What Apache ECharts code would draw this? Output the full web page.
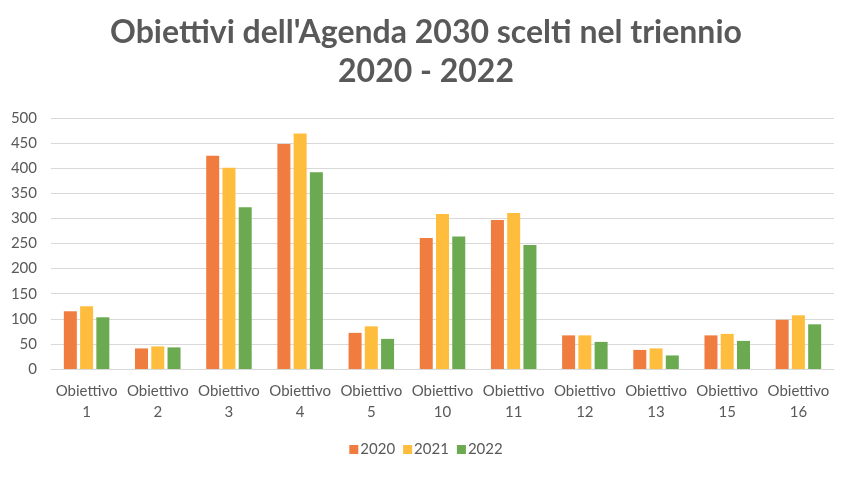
<!DOCTYPE html>
<html><head><meta charset="utf-8">
<script src="https://cdn.jsdelivr.net/npm/echarts@6/dist/echarts.min.js"></script>
<style>html,body{margin:0;padding:0;background:#fff}#c{width:852px;height:477px}</style>
</head><body><div id="c"></div>
<script>
const categories = ['Obiettivo\n1','Obiettivo\n2','Obiettivo\n3','Obiettivo\n4','Obiettivo\n5','Obiettivo\n10','Obiettivo\n11','Obiettivo\n12','Obiettivo\n13','Obiettivo\n15','Obiettivo\n16'];
const v2020 = [115, 41, 425, 448, 72, 261, 297, 67, 38, 67, 98];
const v2021 = [125, 45, 401, 469, 85, 309, 311, 67, 41, 70, 107];
const v2022 = [103, 43, 322, 392, 60, 264, 247, 54, 27, 56, 89];
const seriesNames = ['2020','2021','2022'];
const colors = ['#F07D3F','#FFBD3E','#6BAA50'];
const font = 'Lato';
const chart = echarts.init(document.getElementById('c'));
chart.setOption({
  animation: false,
  title: {
    text: "Obiettivi dell'Agenda 2030 scelti nel triennio\n2020 - 2022",
    left: 'center', top: 8,
    textStyle: {fontFamily: font, fontWeight: 'bold', fontSize: 32, color: '#595959', lineHeight: 39}
  },
  legend: {
    data: seriesNames, bottom: 15, left: 'center',
    itemWidth: 9, itemHeight: 9, itemGap: 8, icon: 'rect',
    textStyle: {fontFamily: font, fontSize: 15, color: '#595959', padding: [0,0,0,-3]}
  },
  grid: {left: 51, right: 18, top: 118, bottom: 108, containLabel: false},
  xAxis: {
    type: 'category', data: categories,
    axisLine: {lineStyle: {color: '#d9d9d9'}},
    axisTick: {show: false},
    axisLabel: {fontFamily: font, fontSize: 15, color: '#595959', lineHeight: 21, margin: 12, interval: 0}
  },
  yAxis: {
    type: 'value', min: 0, max: 500, interval: 50,
    axisLine: {show: false}, axisTick: {show: false},
    splitLine: {lineStyle: {color: '#d9d9d9'}},
    axisLabel: {fontFamily: font, fontSize: 15, color: '#595959', margin: 14}
  },
  series: [
    {name: seriesNames[0], type: 'bar', data: v2020, barWidth: 13, barGap: '25%', itemStyle: {color: colors[0]}},
    {name: seriesNames[1], type: 'bar', data: v2021, barWidth: 13, barGap: '25%', itemStyle: {color: colors[1]}},
    {name: seriesNames[2], type: 'bar', data: v2022, barWidth: 13, barGap: '25%', itemStyle: {color: colors[2]}}
  ]
});
</script></body></html>
